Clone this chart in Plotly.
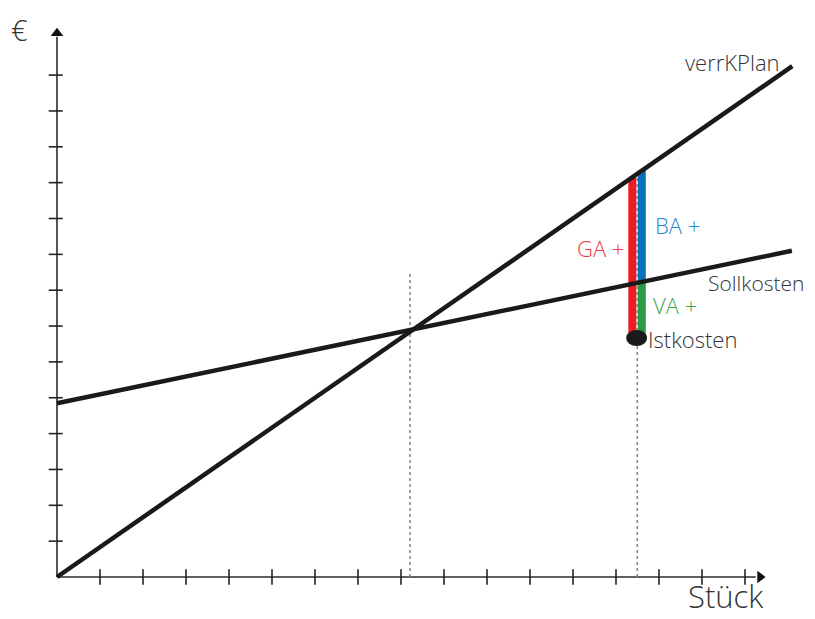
import plotly.graph_objects as go

# ---- data (axis units: 1 = one tick step) ----
x_ticks = list(range(1, 17))
y_ticks = list(range(1, 15))
axis_x_end = 16.35
axis_y_end = 15.17

verr_x = [0.0, 17.1]
verr_y = [0.0, 14.25]
soll_x = [0.0, 17.09]
soll_y = [4.845, 9.10]

break_even_x = 8.21
break_even_top = 8.48
ist_x_line = 13.495
ist_line_top = 11.2

ist_point_x = [13.48]
ist_point_y = [6.667]

ga_x = 13.38
ga_y = [11.15, 6.667]
ba_x = 13.60
ba_y = [11.33, 8.236]
va_x = 13.60
va_y = [8.236, 6.667]

FONT = "Open Sans"
TXT = "#333333"

# pixel scale (px per axis unit)
PX_X = 43.0
PX_Y = 35.85

fig = go.Figure()

# axes
fig.add_trace(go.Scatter(x=[0, axis_x_end - 0.1], y=[0, 0], mode="lines",
                         line=dict(color="#2b2b2b", width=1.6), hoverinfo="skip"))
fig.add_trace(go.Scatter(x=[0, 0], y=[0, axis_y_end - 0.1], mode="lines",
                         line=dict(color="#2b2b2b", width=1.6), hoverinfo="skip"))
fig.add_trace(go.Scatter(x=[axis_x_end], y=[0], mode="markers",
                         marker=dict(symbol="triangle-right", size=11, color="#111"), hoverinfo="skip"))
fig.add_trace(go.Scatter(x=[0], y=[axis_y_end], mode="markers",
                         marker=dict(symbol="triangle-up", size=11, color="#111"), hoverinfo="skip"))
# ticks
fig.add_trace(go.Scatter(x=x_ticks, y=[0] * len(x_ticks), mode="markers",
                         marker=dict(symbol="line-ns", size=11, line=dict(color="#222", width=1.6)),
                         hoverinfo="skip"))
fig.add_trace(go.Scatter(x=[-0.03] * len(y_ticks), y=y_ticks, mode="markers",
                         marker=dict(symbol="line-ew", size=10, line=dict(color="#222", width=1.6)),
                         hoverinfo="skip"))

# dotted guide lines
fig.add_trace(go.Scatter(x=[break_even_x, break_even_x], y=[0, break_even_top], mode="lines",
                         line=dict(color="#8a8a8a", width=1.6, dash="dot"), hoverinfo="skip"))
fig.add_trace(go.Scatter(x=[ist_x_line, ist_x_line], y=[0, ist_line_top], mode="lines",
                         line=dict(color="#8a8a8a", width=1.6, dash="dot"), hoverinfo="skip"))

# deviation bars
fig.add_trace(go.Scatter(x=[ga_x, ga_x], y=ga_y, mode="lines",
                         line=dict(color="#ed1c24", width=8), hoverinfo="skip"))
fig.add_trace(go.Scatter(x=[ba_x, ba_x], y=ba_y, mode="lines",
                         line=dict(color="#0a72bc", width=8), hoverinfo="skip"))
fig.add_trace(go.Scatter(x=[va_x, va_x], y=va_y, mode="lines",
                         line=dict(color="#2a9a46", width=8), hoverinfo="skip"))

# cost lines
fig.add_trace(go.Scatter(x=verr_x, y=verr_y, mode="lines",
                         line=dict(color="#1a1a1a", width=4.5), hoverinfo="skip"))
fig.add_trace(go.Scatter(x=soll_x, y=soll_y, mode="lines",
                         line=dict(color="#1a1a1a", width=4.5), hoverinfo="skip"))

# Istkosten point (ellipse, 21 x 16 px)
fig.add_shape(type="circle", xref="x", yref="y",
              x0=ist_point_x[0] - 10.5 / PX_X, x1=ist_point_x[0] + 10.5 / PX_X,
              y0=ist_point_y[0] - 8 / PX_Y, y1=ist_point_y[0] + 8 / PX_Y,
              fillcolor="#1a1a1a", line=dict(width=0), layer="above")

def label(text, x, y, xanchor, color=TXT, size=22, yanchor="middle"):
    fig.add_annotation(x=x, y=y, text=text, showarrow=False, xanchor=xanchor, yanchor=yanchor,
                       borderpad=0,
                       font=dict(family=FONT, size=size, color=color, weight=300))

label("verrKPlan", 16.83, 14.37, "right")
label("BA +", 13.88, 9.82, "left", "#2a85c9")
label("GA +", 13.21, 9.18, "right", "#ec3a43")
label("Sollkosten", 15.12, 8.20, "left", size=21)
label("VA +", 13.84, 7.59, "left", "#3ea64a")
label("Istkosten", 13.72, 6.64, "left")
label("Stück", 16.44, -1.144, "right", size=31, yanchor="bottom")
label("€", -0.872, 15.84, "center", size=29, yanchor="top")

# the page adds an 8px body margin; offset ranges so the origin lands at page pixel (57, 577)
OFF = 8
W, H = 815, 619
fig.update_layout(
    width=W, height=H,
    margin=dict(l=0, r=0, t=0, b=0),
    paper_bgcolor="white", plot_bgcolor="white",
    showlegend=False,
    xaxis=dict(range=[(OFF - 57) / PX_X, (OFF + W - 57) / PX_X], visible=False, fixedrange=True),
    yaxis=dict(range=[(577 - (OFF + H)) / PX_Y, (577 - OFF) / PX_Y], visible=False, fixedrange=True),
)

fig.write_html("out.html")
